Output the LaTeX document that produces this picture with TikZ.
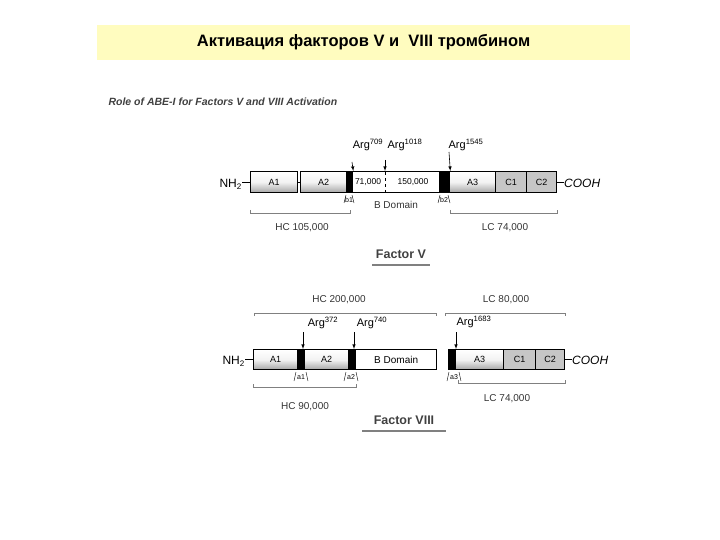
\documentclass[tikz,border=0pt]{standalone}
\usepackage{fontspec}
\setmainfont{Liberation Sans}
\begin{document}
\begin{tikzpicture}[x=1pt,y=-1pt,
 dom/.style={draw,line width=1.3pt,top color=white,bottom color=gray!70,middle color=white!90!gray,font=\fontsize{9}{10}\selectfont},
 cdom/.style={draw,line width=1.3pt,fill=gray!45,font=\fontsize{9}{10}\selectfont},
 blk/.style={draw,line width=1.3pt,fill=black},
 wdom/.style={draw,line width=1.3pt,fill=white,font=\fontsize{9}{10}\selectfont},
 lbl/.style={font=\fontsize{10}{12}\selectfont,text=black!80},
 arg/.style={font=\fontsize{11}{12}\selectfont,inner sep=1pt},
 brk/.style={gray,line width=0.5pt},
 arr/.style={-latex,line width=0.6pt}]
\useasboundingbox (0,0) rectangle (720,540);
\node[fill=yellow!25,minimum width=533pt,minimum height=35pt,font=\bfseries\fontsize{16.5}{18}\selectfont] (title) at (363.5,42.5) {Активация факторов V и \ VIII тромбином};
\node[anchor=west,font=\bfseries\itshape\fontsize{10.5}{12}\selectfont,text=black!75] (sub) at (105,102) {Role of ABE-I for Factors V and VIII Activation};
% Factor V
\draw[line width=0.6pt] (242,182) -- (250,182) (297,182)--(300,182) (556,182)--(564,182);
\node[anchor=east,font=\fontsize{12}{14}\selectfont,inner sep=1pt] (nh5) at (243,184) {NH\textsubscript{2}};
\node[anchor=west,font=\itshape\fontsize{12}{14}\selectfont,inner sep=1pt] (co5) at (563,183) {COOH};
\node[dom,anchor=north west,minimum width=47pt,minimum height=21pt,inner sep=0pt] (a15) at (250,171) {A1};
\node[dom,anchor=north west,minimum width=46pt,minimum height=21pt,inner sep=0pt] (a25) at (300,171) {A2};
\node[blk,anchor=north west,minimum width=6pt,minimum height=21pt,inner sep=0pt] (b15) at (346,171) {};
\node[wdom,anchor=north west,minimum width=87pt,minimum height=21pt,inner sep=0pt] (bd5) at (352,171) {};
\node[font=\fontsize{8.5}{10}\selectfont] (k71) at (368,182) {71,000};
\node[font=\fontsize{8.5}{10}\selectfont] (k150) at (413,182) {150,000};
\draw[dashed,line width=0.5pt] (385,172) -- (385,192);
\node[blk,anchor=north west,minimum width=10pt,minimum height=21pt,inner sep=0pt] (b25) at (439,171) {};
\node[dom,anchor=north west,minimum width=46pt,minimum height=21pt,inner sep=0pt] (a35) at (449,171) {A3};
\node[cdom,anchor=north west,minimum width=31pt,minimum height=21pt,inner sep=0pt] (c15) at (495,171) {C1};
\node[cdom,anchor=north west,minimum width=30pt,minimum height=21pt,inner sep=0pt] (c25) at (526,171) {C2};
\node[arg] (r709) at (368,145) {Arg\textsuperscript{709}};
\node[arg] (r1018) at (405,145) {Arg\textsuperscript{1018}};
\node[arg] (r1545) at (466,145) {Arg\textsuperscript{1545}};
\coordinate (t1) at (352,162); \coordinate (t2) at (385,160); \coordinate (t3) at (449,152);
\draw[arr] (t1) -- (b15.north east);
\draw[arr] (t2) -- (385,171);
\draw[arr] (t3) -- (b25.north east);
\node[font=\fontsize{7}{8}\selectfont] (lb1) at (349,200) {b1};
\node[font=\fontsize{7}{8}\selectfont] (lb2) at (444,200) {b2};
\draw[line width=0.4pt] (344,203)--(346,195) (352,195)--(354,203) (438,203)--(440,195) (448,195)--(450,203);
\node[lbl] (bdl) at (396,205) {B Domain};
\draw[brk] (250,210)--(250,213)--(350,213)--(350,210);
\draw[brk] (450,210)--(450,213)--(557,213)--(557,210);
\node[lbl] (hc5) at (302,228) {HC 105,000};
\node[lbl] (lc5) at (505,228) {LC 74,000};
\node[font=\bfseries\fontsize{12.5}{14}\selectfont,text=black!75] (f5) at (401,254) {Factor V};
\draw[gray,line width=1.4pt] (372,265)--(430,265);
% Factor VIII
\draw[line width=0.6pt] (245,359) -- (253,359) (564,359)--(572,359);
\node[anchor=east,font=\fontsize{12}{14}\selectfont,inner sep=1pt] (nh8) at (246,361) {NH\textsubscript{2}};
\node[anchor=west,font=\itshape\fontsize{12}{14}\selectfont,inner sep=1pt] (co8) at (571,360) {COOH};
\node[dom,anchor=north west,minimum width=44pt,minimum height=20pt,inner sep=0pt] (a18) at (253,349) {A1};
\node[blk,anchor=north west,minimum width=7pt,minimum height=20pt,inner sep=0pt] (k1) at (297,349) {};
\node[dom,anchor=north west,minimum width=44pt,minimum height=20pt,inner sep=0pt] (a28) at (304,349) {A2};
\node[blk,anchor=north west,minimum width=7pt,minimum height=20pt,inner sep=0pt] (k2) at (348,349) {};
\node[wdom,anchor=north west,minimum width=81pt,minimum height=20pt,inner sep=0pt,font=\fontsize{10}{12}\selectfont] (bd8) at (355,349) {B Domain};
\node[blk,anchor=north west,minimum width=7pt,minimum height=20pt,inner sep=0pt] (k3) at (448,349) {};
\node[dom,anchor=north west,minimum width=48pt,minimum height=20pt,inner sep=0pt] (a38) at (455,349) {A3};
\node[cdom,anchor=north west,minimum width=32pt,minimum height=20pt,inner sep=0pt] (c18) at (503,349) {C1};
\node[cdom,anchor=north west,minimum width=29pt,minimum height=20pt,inner sep=0pt] (c28) at (535,349) {C2};
\node[lbl] (hc2) at (339,300) {HC 200,000};
\node[lbl] (lc8) at (506,300) {LC 80,000};
\draw[brk] (254,316)--(254,313)--(436,313)--(436,316);
\draw[brk] (445,316)--(445,313)--(565,313)--(565,316);
\node[arg] (r372) at (323,323) {Arg\textsuperscript{372}};
\node[arg] (r740) at (372,323) {Arg\textsuperscript{740}};
\node[arg] (r1683) at (474,322) {Arg\textsuperscript{1683}};
\coordinate (u1) at (303,332); \coordinate (u2) at (354,332); \coordinate (u3) at (456,332);
\draw[arr] (u1) -- (303,349);
\draw[arr] (u2) -- (354,349);
\draw[arr] (u3) -- (456,349);
\node[font=\fontsize{7}{8}\selectfont] (la1) at (301,377) {a1};
\node[font=\fontsize{7}{8}\selectfont] (la2) at (351,377) {a2};
\node[font=\fontsize{7}{8}\selectfont] (la3) at (454,377) {a3};
\draw[line width=0.4pt] (294,381)--(296,372) (306,372)--(308,381) (344,381)--(346,372) (356,372)--(358,381) (447,381)--(449,372) (459,372)--(461,381);
\draw[brk] (253,384)--(253,387)--(356,387)--(356,384);
\draw[brk] (458,380)--(458,383)--(565,383)--(565,380);
\node[lbl] (hc9) at (305,407) {HC 90,000};
\node[lbl] (lc74) at (507,399) {LC 74,000};
\node[font=\bfseries\fontsize{12.5}{14}\selectfont,text=black!75] (f8) at (404,420) {Factor VIII};
\draw[gray,line width=1.4pt] (362,431)--(446,431);
\end{tikzpicture}
\end{document}
